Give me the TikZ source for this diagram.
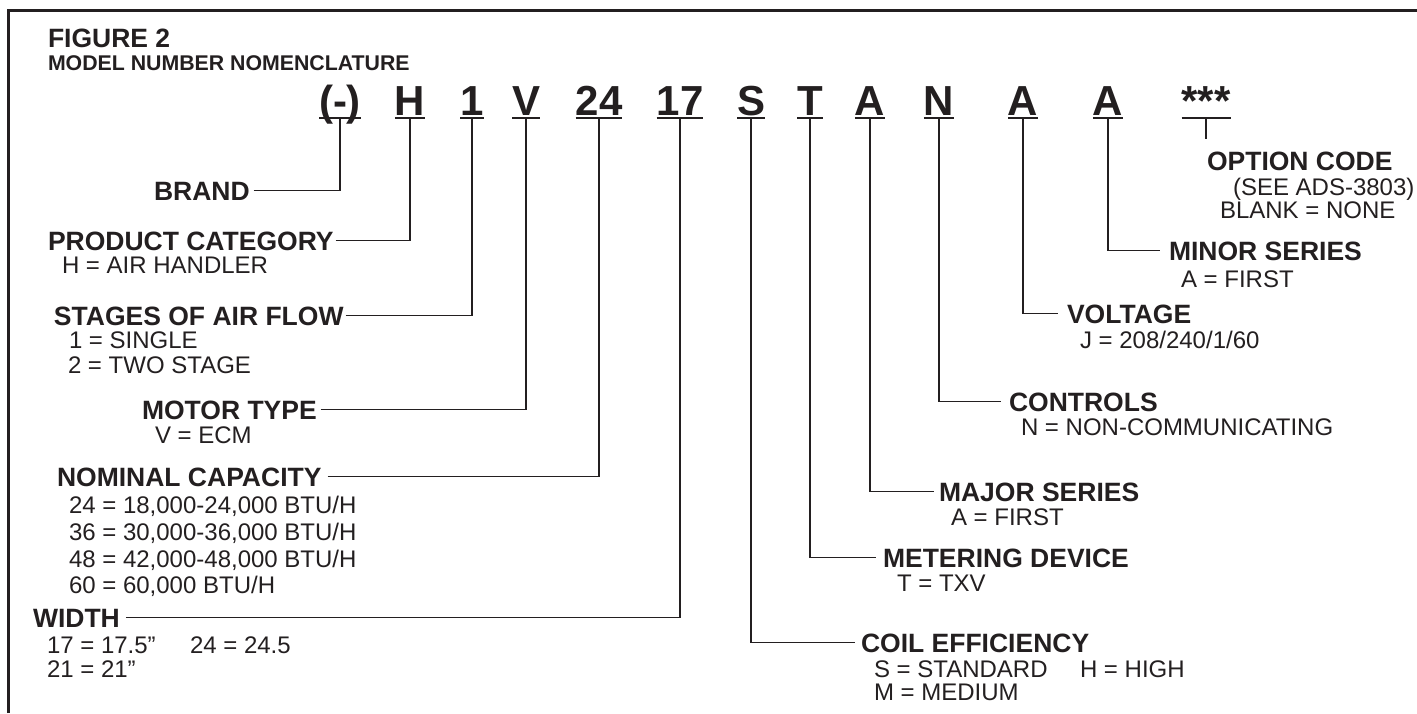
\documentclass[tikz,border=0pt]{standalone}
\usepackage{fontspec}
\setmainfont{Liberation Sans}
\definecolor{ink}{RGB}{35,31,32}
\begin{document}
\begin{tikzpicture}[x=0.5pt,y=-0.5pt,
  every node/.style={inner sep=0pt, outer sep=0pt, text=ink},
  big/.style={font=\fontsize{21}{21}\selectfont\bfseries, anchor=base, text depth=0pt},
  lbl/.style={font=\fontsize{13.25}{13.25}\selectfont\bfseries, anchor=base west},
  desc/.style={font=\fontsize{12}{12}\selectfont, anchor=base west},
  conn/.style={draw=ink, line width=0.55pt},
  uline/.style={draw=ink, line width=1pt},
  frame/.style={draw=ink, line width=1.6pt}]
\useasboundingbox (0,0) rectangle (1417,713);
% frame (top and left edges)
\draw[frame] (8.5,713) -- (8.5,10.5) -- (1417,10.5);
% titles
\node[lbl] (fig) at (48,47) {FIGURE 2};
\node[font=\fontsize{10.65}{10.65}\selectfont\bfseries, anchor=base west] (sub) at (48,70) {MODEL NUMBER NOMENCLATURE};
% model number characters
\node[big] (c1) at (340,115) {(-)};
\node[big] (c2) at (410,115) {H};
\node[big] (c3) at (472,115) {1};
\node[big] (c4) at (526,115) {V};
\node[big] (c5) at (599,115) {24};
\node[big] (c6) at (680,115) {17};
\node[big] (c7) at (751,115) {S};
\node[big] (c8) at (810,115) {T};
\node[big] (c9) at (870,115) {A};
\node[big] (c10) at (939,115) {N};
\node[big] (c11) at (1023,115) {A};
\node[big] (c12) at (1108,115) {A};
\node[big] (c13) at (1206,115) {***};
\foreach \n in {1,...,13}{
  \draw[uline] ([yshift=-1.25pt]c\n.south west) -- ([yshift=-1.25pt]c\n.south east);
  \coordinate (u\n) at ([yshift=-1.25pt]c\n.south);
}
% left side labels
\node[lbl] (brand) at (154,200) {BRAND};
\node[lbl] (prod) at (48,250) {PRODUCT CATEGORY};
\node[desc] (prodd) at (62,273) {H = AIR HANDLER};
\node[lbl] (stage) at (54,325) {STAGES OF AIR FLOW};
\node[desc] (staged1) at (69,348) {1 = SINGLE};
\node[desc] (staged2) at (68,373) {2 = TWO STAGE};
\node[lbl] (motor) at (142,419) {MOTOR TYPE};
\node[desc] (motord) at (155,443) {V = ECM};
\node[lbl] (cap) at (57,486) {NOMINAL CAPACITY};
\node[desc] (capd1) at (69,513) {24 = 18,000-24,000 BTU/H};
\node[desc] (capd2) at (69,540) {36 = 30,000-36,000 BTU/H};
\node[desc] (capd3) at (69,567) {48 = 42,000-48,000 BTU/H};
\node[desc] (capd4) at (69,593) {60 = 60,000 BTU/H};
\node[lbl] (width) at (33,627) {WIDTH};
\node[desc] (widthd1) at (47,653) {17 = 17.5”};
\node[desc] (widthd2) at (190,653) {24 = 24.5};
\node[desc] (widthd3) at (47,677) {21 = 21”};
% right side labels
\node[lbl] (opt) at (1207,170) {OPTION CODE};
\node[desc] (optd1) at (1233,195) {(SEE ADS-3803)};
\node[desc] (optd2) at (1220,218) {BLANK = NONE};
\node[lbl] (minor) at (1169,260) {MINOR SERIES};
\node[desc] (minord) at (1181,287) {A = FIRST};
\node[lbl] (volt) at (1067,323) {VOLTAGE};
\node[desc] (voltd) at (1080,348) {J = 208/240/1/60};
\node[lbl] (ctrl) at (1009,411) {CONTROLS};
\node[desc] (ctrld) at (1021,435) {N = NON-COMMUNICATING};
\node[lbl] (major) at (939,501) {MAJOR SERIES};
\node[desc] (majord) at (951,525) {A = FIRST};
\node[lbl] (meter) at (883,567) {METERING DEVICE};
\node[desc] (meterd) at (897,591) {T = TXV};
\node[lbl] (coil) at (861,652) {COIL EFFICIENCY};
\node[desc] (coild1) at (874,677) {S = STANDARD};
\node[desc] (coild2) at (1080,677) {H = HIGH};
\node[desc] (coild3) at (874,700) {M = MEDIUM};
% connectors, left side
\draw[conn] ([xshift=2pt]brand.east) -| (u1);
\draw[conn] ([xshift=1pt]prod.east) -| (u2);
\draw[conn] ([xshift=1pt]stage.east) -| (u3);
\draw[conn] ([xshift=2pt]motor.east) -| (u4);
\draw[conn] ([xshift=3pt]cap.east) -| (u5);
\draw[conn] ([xshift=3pt]width.east) -| (u6);
% connectors, right side
\draw[conn] (u7) |- ([xshift=-3pt]coil.west);
\draw[conn] (u8) |- ([xshift=-3.5pt]meter.west);
\draw[conn] (u9) |- ([xshift=-2.5pt]major.west);
\draw[conn] (u10) |- ([xshift=-4pt]ctrl.west);
\draw[conn] (u11) |- ([xshift=-4.5pt]volt.west);
\draw[conn] (u12) |- ([xshift=-4.5pt]minor.west);
\coordinate (tickend) at (1206,139);
\draw[conn] (u13) -- (tickend);
\end{tikzpicture}
\end{document}
